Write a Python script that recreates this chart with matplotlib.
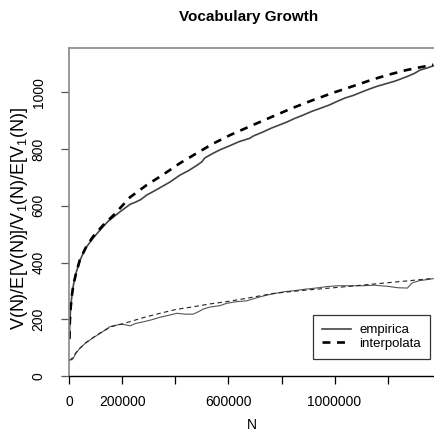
import matplotlib
matplotlib.use("Agg")
import matplotlib.pyplot as plt
from matplotlib.lines import Line2D

plt.rcParams['font.family'] = ['Liberation Sans', 'DejaVu Sans']
plt.rcParams['mathtext.fontset'] = 'custom'
plt.rcParams['mathtext.rm'] = 'Liberation Sans'
plt.rcParams['mathtext.it'] = 'Liberation Sans'

# ---- data (N in thousands) ----
N_emp = [0.5, 2, 5, 10, 15, 25, 40, 55, 65, 80, 90, 110, 128, 145, 166, 190, 216, 229,
         250, 270, 292, 320, 354, 380, 417, 450, 480, 500, 510, 540, 570, 606, 640,
         681, 694, 730, 760, 790, 820, 850, 880, 915, 945, 980, 1010, 1040, 1071,
         1100, 1130, 1160, 1197, 1230, 1272, 1300, 1322, 1350, 1372]
V_emp = [135, 190, 240, 285, 318, 362, 407, 438, 455, 474, 486, 508, 527, 544, 560, 578,
         596, 605, 613, 622, 638, 652, 670, 684, 708, 724, 742, 755, 768, 784, 798, 812,
         826, 838, 846, 860, 873, 884, 895, 908, 919, 933, 943, 955, 968, 980, 989,
         1000, 1011, 1021, 1031, 1040, 1055, 1066, 1078, 1086, 1093]

N_int = [0.5, 2, 5, 10, 15, 25, 40, 65, 90, 128, 166, 229, 290, 354, 417, 480, 540,
         606, 681, 760, 840, 920, 1000, 1071, 1140, 1200, 1270, 1322, 1372]
V_int = [130, 190, 240, 285, 320, 360, 410, 458, 492, 532, 566, 630, 672, 710, 750,
         785, 818, 849, 880, 912, 944, 973, 1000, 1022, 1044, 1061, 1078, 1088, 1097]

N1_emp = [0.5, 5, 10, 15, 25, 40, 60, 78, 95, 116, 135, 153, 170, 191, 210, 229, 250,
          279, 310, 342, 375, 405, 435, 467, 490, 505, 530, 568, 593, 630, 669, 700,
          740, 770, 810, 850, 890, 930, 970, 1010, 1060, 1100, 1150, 1200, 1240, 1275,
          1292, 1320, 1350, 1372]
V1_emp = [55, 58, 57, 62, 80, 98, 115, 127, 138, 150, 162, 174, 178, 182, 181, 177, 185,
          191, 198, 207, 214, 221, 218, 218, 228, 236, 243, 248, 256, 262, 265, 274,
          284, 290, 297, 301, 306, 310, 315, 318, 318, 318, 320, 316, 311, 310,
          328, 336, 340, 343]

N1_int = [0.5, 10, 25, 40, 60, 78, 100, 127, 160, 216, 280, 342, 400, 467, 530, 593,
          669, 769, 895, 1021, 1146, 1272, 1372]
V1_int = [55, 62, 82, 98, 116, 128, 142, 158, 174, 188, 206, 221, 234, 244, 254, 262,
          274, 291, 303, 313, 324, 335, 344]

xticks = [0, 200000, 400000, 600000, 800000, 1000000, 1200000]
xticklabels = ['0', '200000', '', '600000', '', '1000000', '']
yticks = [0, 200, 400, 600, 800, 1000]
yticklabels = ['0', '200', '400', '600', '800', '1000']

W, H = 434, 432
fig = plt.figure(figsize=(W / 100, H / 100), dpi=100)
ax = fig.add_axes([69.3 / W, 1 - 376 / H, (W - 69.3) / W, (376 - 48.3) / H])

ax.plot([n * 1000 for n in N_emp], V_emp, color='#444444', lw=1.2)
ax.plot([n * 1000 for n in N_int], V_int, color='black', lw=1.9, ls=(0, (3, 2.5)))
ax.plot([n * 1000 for n in N1_emp], V1_emp, color='#555555', lw=0.8)
ax.plot([n * 1000 for n in N1_int], V1_int, color='#222222', lw=0.8, ls=(0, (4, 3)))

ax.set_xlim(0, 1374900)
ax.set_ylim(0, 1155)

for s in ['left', 'top']:
    ax.spines[s].set_color('#888888')
    ax.spines[s].set_linewidth(1.2)
ax.spines['right'].set_visible(False)
ax.spines['bottom'].set_color('black')
ax.spines['bottom'].set_linewidth(1.0)

ax.set_xticks(xticks)
ax.set_xticklabels(xticklabels, fontsize=10)
ax.set_yticks(yticks)
ax.set_yticklabels(yticklabels, fontsize=10, rotation=90, va='center')
ax.tick_params(axis='x', length=6, width=0.9, color='black', pad=8)
ax.tick_params(axis='y', length=6, width=0.9, color='#555555', pad=11)

fig.text(249 / W, 1 - 17 / H, 'Vocabulary Growth', fontsize=11, fontweight='bold',
         ha='center', va='center')
fig.text(252 / W, 1 - 425 / H, 'N', fontsize=10, ha='center', va='center')
fig.text(20 / W, 1 - 218 / H, r'V(N)/E[V(N)]/V$_1$(N)/E[V$_1$(N)]', fontsize=13,
         rotation=90, ha='center', va='center')

handles = [Line2D([], [], color='#444444', lw=1.2),
           Line2D([], [], color='black', lw=1.9, ls=(0, (3, 2.5)))]
leg = ax.legend(handles, ['empirica', 'interpolata'], loc='lower right',
                bbox_to_anchor=((430 - 69.3) / (W - 69.3), (376 - 359) / (376 - 48.3)),
                fontsize=9.5, frameon=True, fancybox=False, handlelength=2.2,
                handletextpad=0.6, borderpad=0.7, labelspacing=0.1, borderaxespad=0)
leg.get_frame().set_edgecolor('black')
leg.get_frame().set_linewidth(0.9)

fig.savefig('out.png', dpi=100)
